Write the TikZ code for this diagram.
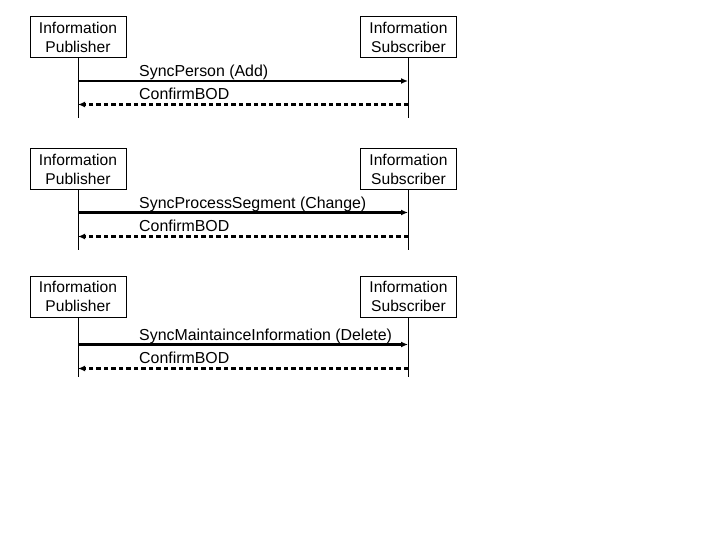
\documentclass[tikz,border=0pt]{standalone}
\usepackage{fontspec}
\setmainfont{Liberation Sans}
\usetikzlibrary{arrows.meta}
\begin{document}
\begin{tikzpicture}[x=1pt,y=-1pt,
  actor/.style={draw,line width=1pt,minimum width=96pt,minimum height=41pt,align=center,inner sep=0pt,
    font=\fontsize{15.6}{18.5}\selectfont},
  life/.style={line width=1pt},
  msg/.style={line width=2.2pt,-{Latex[length=7pt,width=6pt]}},
  reply/.style={line width=2.2pt,dash pattern=on 4.5pt off 3pt,-{Latex[length=7pt,width=6pt]}},
  lbl/.style={anchor=base west,inner sep=0pt,font=\fontsize{15.9}{18.5}\selectfont}]
\useasboundingbox[fill=white] (0,0) rectangle (720,540);
% group 1
\node[actor] (p1) at (78,37.5) {Information\\Publisher};
\node[actor] (s1) at (408.5,37.5) {Information\\Subscriber};
\coordinate (p1e) at (78,118);
\coordinate (s1e) at (408,118);
\draw[life] (p1.south) -- (p1e);
\draw[life] (s1.south -| s1e) -- (s1e);
\coordinate (m1a) at (78,81); \coordinate (m1b) at (408,81);
\coordinate (r1a) at (408,104.5); \coordinate (r1b) at (78,104.5);
\draw[msg] (m1a) -- (m1b);
\draw[reply] (r1a) -- (r1b);
\node[lbl] (t1) at (139,77) {SyncPerson (Add)};
\node[lbl] (c1) at (139,100) {ConfirmBOD};
% group 2
\node[actor] (p2) at (78,169.5) {Information\\Publisher};
\node[actor] (s2) at (408.5,169.5) {Information\\Subscriber};
\coordinate (p2e) at (78,250);
\coordinate (s2e) at (408,250);
\draw[life] (p2.south) -- (p2e);
\draw[life] (s2.south -| s2e) -- (s2e);
\coordinate (m2a) at (78,212.5); \coordinate (m2b) at (408,212.5);
\coordinate (r2a) at (408,236.5); \coordinate (r2b) at (78,236.5);
\draw[msg] (m2a) -- (m2b);
\draw[reply] (r2a) -- (r2b);
\node[lbl] (t2) at (139,208.5) {SyncProcessSegment (Change)};
\node[lbl] (c2) at (139,232) {ConfirmBOD};
% group 3
\node[actor] (p3) at (78,296.5) {Information\\Publisher};
\node[actor] (s3) at (408.5,296.5) {Information\\Subscriber};
\coordinate (p3e) at (78,377);
\coordinate (s3e) at (408,377);
\draw[life] (p3.south) -- (p3e);
\draw[life] (s3.south -| s3e) -- (s3e);
\coordinate (m3a) at (78,344.5); \coordinate (m3b) at (408,344.5);
\coordinate (r3a) at (408,368.5); \coordinate (r3b) at (78,368.5);
\draw[msg] (m3a) -- (m3b);
\draw[reply] (r3a) -- (r3b);
\node[lbl] (t3) at (139,340) {SyncMaintainceInformation (Delete)};
\node[lbl] (c3) at (139,363.5) {ConfirmBOD};
\end{tikzpicture}
\end{document}
